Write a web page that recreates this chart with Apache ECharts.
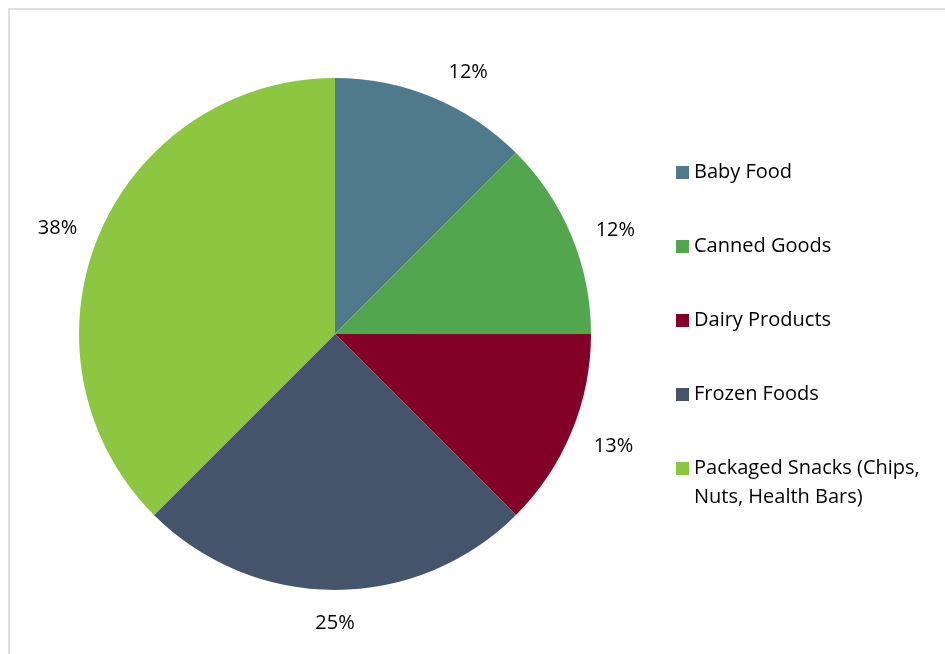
<!DOCTYPE html>
<html>
<head>
<meta charset="utf-8">
<script src="https://cdn.jsdelivr.net/npm/echarts@6/dist/echarts.min.js"></script>
<style>
  html, body { margin: 0; padding: 0; background: #ffffff; }
  #chart { width: 945px; height: 654px; }
</style>
</head>
<body>
<div id="chart"></div>
<script>
// Share of sales by product category (percent)
const categories = [
  'Baby Food',
  'Canned Goods',
  'Dairy Products',
  'Frozen Foods',
  'Packaged Snacks (Chips, Nuts, Health Bars)'
];
const shares = [12.49, 12.49, 12.52, 25.0, 37.5];
const sliceColors = ['#4e7a8b', '#52a64e', '#830026', '#44546a', '#8dc641'];
// small per-label nudges [dx, dy] for the percentage labels around the pie
const labelNudge = [[20, 12], [7, 10], [5, -1], [0, -7], [-4, 8]];

const FONT = '"Open Sans", "Noto Sans", sans-serif';
const CENTER = [335, 334];

const pieData = categories.map((name, i) => ({
  name: name,
  value: shares[i],
  itemStyle: { color: sliceColors[i] }
}));

const labelRing = categories.map((name, i) => ({
  name: name,
  value: shares[i],
  label: { offset: labelNudge[i] }
}));

const legendText = {
  fontFamily: FONT,
  fontSize: 20,
  color: '#000000',
  lineHeight: 29
};

const chart = echarts.init(document.getElementById('chart'), null, { renderer: 'canvas' });

chart.setOption({
  animation: false,
  backgroundColor: '#ffffff',
  graphic: [{
    type: 'rect',
    shape: { x: 9, y: 9, width: 1000, height: 700 },
    style: { fill: 'none', stroke: '#e0e0e0', lineWidth: 2 },
    silent: true
  }],
  legend: [{
    orient: 'vertical',
    left: 676,
    top: 158,
    padding: 0,
    icon: 'rect',
    itemWidth: 13,
    itemHeight: 13,
    itemGap: 45,
    textStyle: legendText,
    data: categories.slice(0, 4)
  }, {
    orient: 'vertical',
    left: 676,
    top: 425,
    padding: 0,
    icon: 'rect',
    itemWidth: 13,
    itemHeight: 13,
    textStyle: legendText,
    formatter: name => ' \n' + name.replace(', Nuts', ',\nNuts'),
    data: categories.slice(4)
  }],
  series: [{
    // the pie itself
    type: 'pie',
    center: CENTER,
    radius: [0, 256],
    startAngle: 90,
    clockwise: true,
    label: { show: false },
    labelLine: { show: false },
    emphasis: { disabled: true },
    data: pieData
  }, {
    // invisible ring that carries the percentage labels around the pie
    type: 'pie',
    center: CENTER,
    radius: [276, 310],
    startAngle: 90,
    clockwise: true,
    silent: true,
    itemStyle: { color: 'rgba(0,0,0,0)' },
    label: {
      show: true,
      position: 'inside',
      fontFamily: FONT,
      fontSize: 20,
      color: '#000000',
      formatter: p => Math.round(p.value) + '%'
    },
    labelLine: { show: false },
    emphasis: { disabled: true },
    legendHoverLink: false,
    data: labelRing
  }]
});
</script>
</body>
</html>
